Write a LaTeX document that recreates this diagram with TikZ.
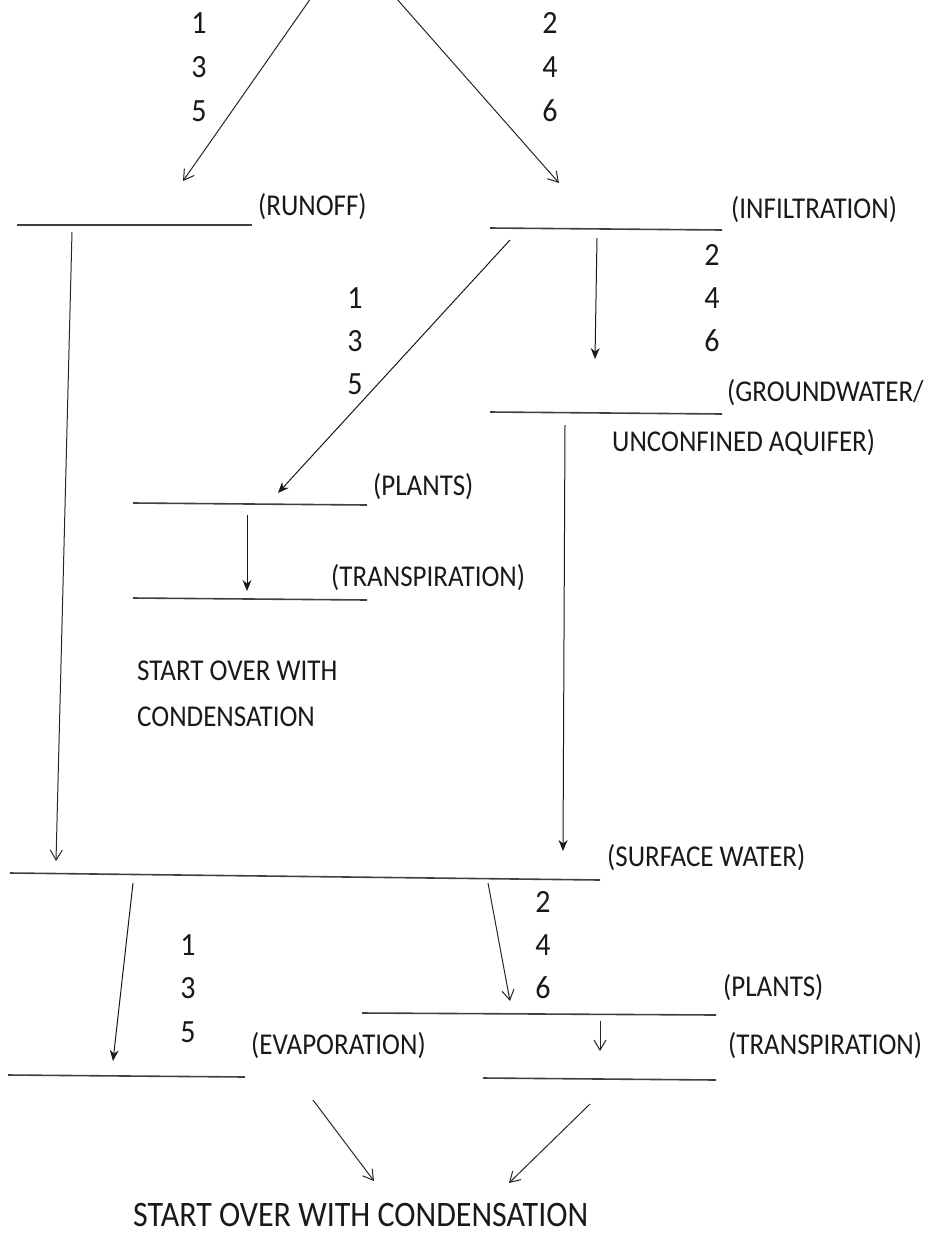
\documentclass[tikz,border=0pt]{standalone}
\usepackage{fontspec}
\setmainfont{Carlito}
\usetikzlibrary{arrows.meta}
\begin{document}
\begin{tikzpicture}[x=1pt,y=-1pt,
  blank/.style={line width=1.6pt, draw=black!75},
  lbl/.style={anchor=west, inner sep=0pt, font=\fontsize{27}{27}\selectfont, text=black!90, yscale=1.12},
  num/.style={inner sep=0pt, font=\fontsize{30}{30}\selectfont, text=black!90, yscale=1.08},
  open/.style={draw=black!85, line width=1pt, -{Straight Barb[length=10pt,width=12pt,line width=1pt]}},
  solid/.style={draw=black!90, line width=1pt, -{Stealth[length=11pt,width=9pt]}}]
\useasboundingbox (0,0) rectangle (931,1235);
% blanks (lines)
\coordinate (ro1) at (17,225);   \coordinate (ro2) at (252,225);
\coordinate (in1) at (490,228);  \coordinate (in2) at (722,230);
\coordinate (gw1) at (490,412);  \coordinate (gw2) at (722,414);
\coordinate (pl1) at (133,503);  \coordinate (pl2) at (367,505);
\coordinate (tr1) at (133,598);  \coordinate (tr2) at (367,600);
\coordinate (sw1) at (10,873);   \coordinate (sw2) at (600,880);
\coordinate (pb1) at (362,1013); \coordinate (pb2) at (716,1015);
\coordinate (ev1) at (8,1075);   \coordinate (ev2) at (245,1077);
\coordinate (tb1) at (483,1078); \coordinate (tb2) at (716,1080);
\foreach \a/\b in {ro1/ro2,in1/in2,gw1/gw2,pl1/pl2,tr1/tr2,sw1/sw2,pb1/pb2,ev1/ev2,tb1/tb2}
  \draw[blank] (\a) -- (\b);
% labels
\node[lbl] (lro) at (258,207) {(RUNOFF)};
\node[lbl] (lin) at (731,210) {(INFILTRATION)};
\node[lbl] (lgw) at (727,393) {(GROUNDWATER/};
\node[lbl] (lgw2) at (612,443) {UNCONFINED AQUIFER)};
\node[lbl] (lpl) at (373,487) {(PLANTS)};
\node[lbl] (ltr) at (331,578) {(TRANSPIRATION)};
\node[lbl] (so1) at (137,671) {START OVER WITH};
\node[lbl] (so2) at (137,717) {CONDENSATION};
\node[lbl] (lsw) at (607,858) {(SURFACE WATER)};
\node[lbl] (lpb) at (723,988) {(PLANTS)};
\node[lbl] (lev) at (251,1046) {(EVAPORATION)};
\node[lbl] (ltb) at (728,1046) {(TRANSPIRATION)};
\node[lbl, font=\fontsize{32}{32}\selectfont] (fin) at (133,1215) {START OVER WITH CONDENSATION};
% numbers
\node[num] (a1) at (199,23) {1}; \node[num] (a3) at (199,67) {3}; \node[num] (a5) at (199,111) {5};
\node[num] (b2) at (550,23) {2}; \node[num] (b4) at (550,67) {4}; \node[num] (b6) at (550,111) {6};
\node[num] (c2) at (712,255) {2}; \node[num] (c4) at (712,298) {4}; \node[num] (c6) at (712,341) {6};
\node[num] (d1) at (355,298) {1}; \node[num] (d3) at (355,341) {3}; \node[num] (d5) at (355,384) {5};
\node[num] (e2) at (543,902) {2}; \node[num] (e4) at (543,945) {4}; \node[num] (e6) at (543,988) {6};
\node[num] (f1) at (188,945) {1}; \node[num] (f3) at (188,988) {3}; \node[num] (f5) at (188,1032) {5};
% arrow endpoints
\coordinate (t0a) at (311,-2);   \coordinate (t0b) at (183,181);
\coordinate (t1a) at (396,-2);   \coordinate (t1b) at (559,183);
\coordinate (r0) at (72,232);    \coordinate (r1) at (56,861);
\coordinate (i0) at (510,240);   \coordinate (i1) at (278,493);
\coordinate (g0) at (597,238);   \coordinate (g1) at (595,359);
\coordinate (w0) at (565,425);   \coordinate (w1) at (563,851);
\coordinate (p0) at (247,515);   \coordinate (p1) at (247,591);
\coordinate (s0) at (133,883);   \coordinate (s1) at (113,1061);
\coordinate (s2) at (488,883);   \coordinate (s3) at (510,1001);
\coordinate (q0) at (600,1021);  \coordinate (q1) at (600,1051);
\coordinate (e0) at (313,1100);  \coordinate (e1) at (374,1181);
\coordinate (h0) at (590,1104);  \coordinate (h1) at (509,1183);
% arrows
\draw[open] (t0a) -- (t0b);
\draw[open] (t1a) -- (t1b);
\draw[open] (r0) -- (r1);
\draw[solid] (i0) -- (i1);
\draw[solid] (g0) -- (g1);
\draw[solid] (w0) -- (w1);
\draw[solid] (p0) -- (p1);
\draw[solid] (s0) -- (s1);
\draw[open] (s2) -- (s3);
\draw[open] (q0) -- (q1);
\draw[open] (e0) -- (e1);
\draw[open] (h0) -- (h1);
\end{tikzpicture}
\end{document}
